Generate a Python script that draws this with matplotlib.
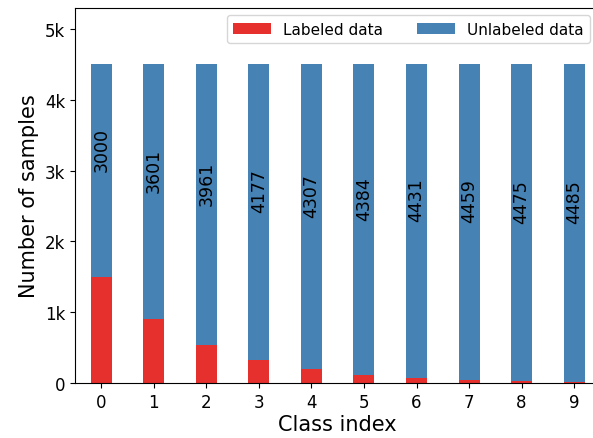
import matplotlib
matplotlib.use("Agg")
import matplotlib.pyplot as plt
from matplotlib.ticker import FuncFormatter
import numpy as np

# Samples per class
classes = np.arange(10)
unlabeled = [3000, 3601, 3961, 4177, 4307, 4384, 4431, 4459, 4475, 4485]
labeled = [1500, 899, 539, 323, 193, 116, 69, 41, 25, 15]

red = "#e6302e"
blue = "#4682b4"

fig = plt.figure(figsize=(5.93, 4.39), dpi=100)
ax = fig.add_axes([0.1265, 0.125, 0.886, 0.855])

ax.bar(classes, labeled, width=0.4, color=red, label="Labeled data")
ax.bar(classes, unlabeled, width=0.4, bottom=labeled, color=blue, label="Unlabeled data")

# counts written up the middle of each unlabeled segment
for x, l, u in zip(classes, labeled, unlabeled):
    ax.text(x, l + u / 2, str(u), rotation=90, ha="center", va="bottom", fontsize=12.5)

ax.set_xlim(-0.5, 9.5)
ax.set_ylim(0, 5300)
ax.set_xticks(classes)
ax.set_yticks(np.arange(0, 5001, 1000))
ax.yaxis.set_major_formatter(FuncFormatter(lambda v, p: "0" if v == 0 else f"{int(v/1000)}k"))
ax.tick_params(labelsize=12)

ax.set_xlabel("Class index", fontsize=15, labelpad=2)
ax.set_ylabel("Number of samples", fontsize=15)

ax.legend(loc="upper right", ncol=2, fontsize=11, handlelength=2.5, columnspacing=2.2,
          bbox_to_anchor=(0.995, 1.0))

fig.savefig("out.png", dpi=100)
